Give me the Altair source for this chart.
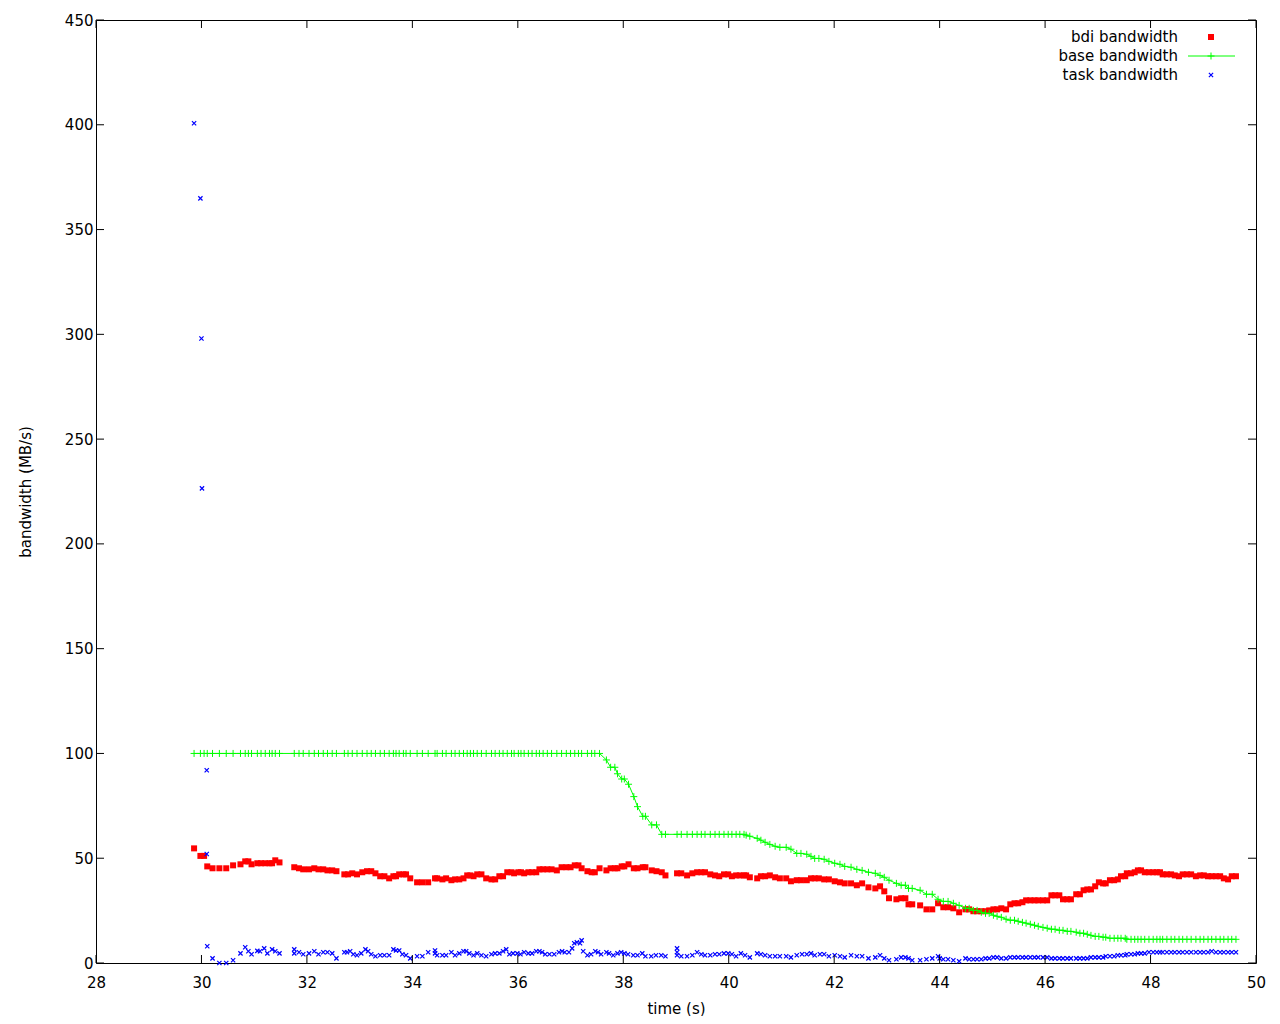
import altair as alt
import pandas as pd

# ---------------- data ----------------
time_s = [
    29.86, 29.98, 30.05, 30.11, 30.21, 30.34, 30.47, 30.60, 30.74, 30.83,
    30.89, 30.95, 31.06, 31.13, 31.21, 31.29, 31.34, 31.40, 31.48, 31.76,
    31.85, 31.93, 32.04, 32.14, 32.22, 32.31, 32.39, 32.48, 32.56, 32.71,
    32.78, 32.86, 32.95, 33.05, 33.14, 33.22, 33.30, 33.39, 33.47, 33.56,
    33.64, 33.69, 33.75, 33.83, 33.88, 33.96, 34.09, 34.19, 34.30, 34.43,
    34.47, 34.57, 34.64, 34.74, 34.81, 34.89, 34.97, 35.04, 35.10, 35.16,
    35.23, 35.31, 35.40, 35.50, 35.57, 35.65, 35.72, 35.80, 35.88, 35.93,
    36.01, 36.06, 36.12, 36.20, 36.27, 36.35, 36.41, 36.48, 36.56, 36.64,
    36.74, 36.83, 36.92, 37.00, 37.08, 37.15, 37.21, 37.32, 37.40, 37.46,
    37.55,
    37.68, 37.76, 37.84, 37.89, 37.97, 38.02, 38.10, 38.20, 38.27, 38.37,
    38.42, 38.54, 38.63,
    38.73, 38.80, 39.02, 39.10, 39.21, 39.31, 39.40, 39.48, 39.55, 39.65,
    39.74, 39.82, 39.91, 39.99, 40.06, 40.14, 40.21, 40.29,
    40.33, 40.40, 40.54, 40.61, 40.69, 40.78, 40.88, 40.97, 41.09, 41.18,
    41.29, 41.37, 41.48, 41.56, 41.63, 41.71, 41.81, 41.90, 42.01, 42.11,
    42.20, 42.32, 42.43, 42.53, 42.65, 42.78, 42.87, 42.95, 43.04, 43.18,
    43.27, 43.35, 43.41, 43.48, 43.63, 43.75, 43.86, 43.97, 44.07, 44.16,
    44.26, 44.37, 44.49, 44.56, 44.64, 44.71, 44.79, 44.87, 44.94, 45.02,
    45.09, 45.17, 45.26, 45.34, 45.42, 45.49, 45.57, 45.64, 45.72, 45.80,
    45.87, 45.96, 46.04, 46.12, 46.19, 46.27, 46.34, 46.42, 46.49, 46.59,
    46.66, 46.73, 46.80, 46.87, 46.95, 47.02, 47.10, 47.15, 47.23, 47.31,
    47.38, 47.44, 47.52,
    47.55, 47.63, 47.70, 47.76, 47.82, 47.89, 47.97, 48.05, 48.12, 48.18,
    48.23, 48.31, 48.39, 48.46, 48.54, 48.61, 48.69, 48.77, 48.86, 48.94,
    49.01, 49.09, 49.16, 49.24, 49.32, 49.39, 49.47, 49.54, 49.62,
]

bdi_bw = [
    54.7, 51.1, 51.1, 46.1, 45.2, 45.2, 45.2, 46.6, 47.1, 48.5,
    48.5, 47.1, 47.6, 47.6, 47.6, 47.6, 47.6, 49.0, 48.0, 45.7,
    45.2, 44.7, 44.7, 45.2, 44.7, 44.7, 44.2, 44.2, 43.8, 42.3,
    42.3, 42.8, 42.3, 43.3, 43.8, 43.8, 42.8, 41.4, 41.4, 40.4,
    41.4, 41.4, 42.3, 42.3, 42.3, 40.4, 38.5, 38.5, 38.5, 40.4,
    40.4, 39.9, 40.4, 39.5, 39.9, 39.9, 40.4, 41.8, 41.8, 41.4,
    42.3, 42.3, 40.4, 39.9, 39.9, 41.4, 41.4, 43.3, 43.3, 42.8,
    43.3, 43.3, 42.8, 43.3, 43.3, 43.3, 44.7, 44.7, 44.7, 44.7,
    44.2, 45.7, 45.7, 45.7, 46.6, 46.6, 45.2, 43.8, 43.3, 43.3,
    45.2,
    44.2, 45.2, 45.2, 45.2, 46.1, 46.1, 47.1, 45.2, 45.2, 45.7,
    45.7, 44.2, 43.8,
    43.3, 41.8, 42.8, 42.8, 41.8, 42.8, 43.3, 43.3, 43.3, 42.3,
    41.8, 41.4, 42.3, 42.3, 41.4, 41.8, 41.8, 41.8,
    41.8, 40.9, 40.4, 41.4, 41.4, 41.8, 40.9, 40.4, 40.4, 39.0,
    39.5, 39.5, 39.5, 40.4, 40.4, 40.4, 39.9, 39.9, 39.0, 38.5,
    38.0, 38.0, 37.1, 38.0, 36.1, 35.6, 36.6, 34.2, 30.9, 30.4,
    30.9, 30.9, 28.0, 28.0, 27.5, 25.6, 25.6, 28.5, 26.6, 26.6,
    26.1, 24.2, 25.6, 25.6, 24.7, 24.7, 24.7, 24.7, 25.1, 25.6,
    25.6, 26.1, 25.6, 28.0, 28.5, 28.5, 29.0, 29.9, 29.9, 29.9,
    29.9, 29.9, 29.9, 32.3, 32.3, 32.3, 30.4, 30.4, 30.4, 32.8,
    32.8, 34.7, 35.1, 35.1, 36.6, 38.5, 38.0, 38.0, 39.5, 39.5,
    39.9, 41.4, 41.4,
    42.8, 42.8, 43.3, 44.2, 44.2, 43.3, 43.3, 43.3, 43.3, 43.3,
    42.3, 42.3, 42.3, 41.8, 41.4, 42.3, 42.3, 42.3, 41.4, 41.8,
    41.8, 41.4, 41.4, 41.4, 41.4, 40.4, 39.9, 41.4, 41.4,
]

base_bw = [
    100.0, 100.0, 100.0, 100.0, 100.0, 100.0, 100.0, 100.0, 100.0, 100.0,
    100.0, 100.0, 100.0, 100.0, 100.0, 100.0, 100.0, 100.0, 100.0, 100.0,
    100.0, 100.0, 100.0, 100.0, 100.0, 100.0, 100.0, 100.0, 100.0, 100.0,
    100.0, 100.0, 100.0, 100.0, 100.0, 100.0, 100.0, 100.0, 100.0, 100.0,
    100.0, 100.0, 100.0, 100.0, 100.0, 100.0, 100.0, 100.0, 100.0, 100.0,
    100.0, 100.0, 100.0, 100.0, 100.0, 100.0, 100.0, 100.0, 100.0, 100.0,
    100.0, 100.0, 100.0, 100.0, 100.0, 100.0, 100.0, 100.0, 100.0, 100.0,
    100.0, 100.0, 100.0, 100.0, 100.0, 100.0, 100.0, 100.0, 100.0, 100.0,
    100.0, 100.0, 100.0, 100.0, 100.0, 100.0, 100.0, 100.0, 100.0, 100.0,
    100.0,
    96.9, 93.4, 93.4, 90.3, 87.8, 87.8, 85.3, 79.4, 74.6, 70.0,
    70.0, 65.9, 65.9,
    61.4, 61.4, 61.4, 61.4, 61.4, 61.4, 61.4, 61.4, 61.4, 61.4,
    61.4, 61.4, 61.4, 61.4, 61.4, 61.4, 61.4, 61.4,
    61.0, 60.5, 59.5, 58.6, 57.6, 56.6, 55.7, 55.2, 55.2, 54.3,
    52.3, 52.3, 51.9, 50.9, 49.9, 49.9, 49.5, 48.5, 47.6, 47.1,
    46.1, 45.7, 44.7, 44.2, 43.3, 42.8, 41.8, 40.9, 39.5, 38.0,
    37.1, 37.1, 35.6, 35.6, 34.7, 32.8, 32.8, 30.4, 29.4, 29.4,
    28.5, 27.5, 26.1, 26.1, 25.1, 25.1, 24.2, 23.7, 23.7, 22.8,
    22.3, 21.8, 20.9, 20.4, 20.4, 19.9, 19.4, 19.0, 18.5, 18.0,
    17.5, 17.0, 16.6, 16.1, 16.1, 15.6, 15.6, 15.1, 15.1, 14.7,
    14.2, 14.2, 13.7, 13.2, 12.7, 12.7, 12.3, 12.3, 11.8, 11.8,
    11.8, 11.8, 11.8,
    11.3, 11.3, 11.3, 11.3, 11.3, 11.3, 11.3, 11.3, 11.3, 11.3,
    11.3, 11.3, 11.3, 11.3, 11.3, 11.3, 11.3, 11.3, 11.3, 11.3,
    11.3, 11.3, 11.3, 11.3, 11.3, 11.3, 11.3, 11.3, 11.3,
]

task_time = [
    29.86, 29.98, 30.00, 30.01, 30.10, 30.10, 30.11, 30.21, 30.34, 30.47,
    30.60, 30.74, 30.83, 30.89, 30.95, 31.06, 31.11, 31.19, 31.25, 31.34,
    31.40, 31.48, 31.76, 31.76, 31.85, 31.93, 32.04, 32.14, 32.22, 32.31,
    32.39, 32.48, 32.56, 32.71, 32.76, 32.82, 32.88, 32.95, 33.03, 33.11,
    33.16, 33.22, 33.30, 33.39, 33.47, 33.56, 33.64, 33.69, 33.75, 33.81,
    33.88, 33.96, 34.09, 34.19, 34.30, 34.43, 34.43, 34.47, 34.57, 34.64,
    34.74, 34.81, 34.89, 34.97, 35.02, 35.08, 35.16, 35.23, 35.31, 35.40,
    35.50, 35.57, 35.65, 35.72, 35.78, 35.84, 35.91, 35.99, 36.05, 36.12,
    36.20, 36.27, 36.35, 36.41, 36.46, 36.52, 36.60, 36.69, 36.78, 36.84,
    36.89, 36.97, 37.03, 37.07, 37.12, 37.18, 37.21, 37.24, 37.32, 37.39,
    37.47, 37.52, 37.58, 37.68, 37.73, 37.81, 37.89, 37.96, 38.02, 38.09,
    38.19, 38.27, 38.36, 38.42, 38.53, 38.62, 38.72, 38.80, 39.02, 39.02,
    39.02, 39.10, 39.21, 39.31, 39.40, 39.48, 39.55, 39.65, 39.74, 39.82,
    39.91, 39.99, 40.06, 40.14, 40.23, 40.31, 40.40, 40.54, 40.61, 40.69,
    40.78, 40.88, 40.97, 41.09, 41.18, 41.29, 41.39, 41.48, 41.56, 41.63,
    41.73, 41.81, 41.90, 42.01, 42.11, 42.20, 42.32, 42.43, 42.53, 42.65,
    42.78, 42.87, 42.95, 43.04, 43.18, 43.27, 43.35, 43.41, 43.48, 43.63,
    43.75, 43.86, 43.97, 44.00, 44.07, 44.16, 44.26, 44.37, 44.49, 44.56,
    44.64, 44.71, 44.79, 44.87, 44.94, 45.02, 45.09, 45.17, 45.26, 45.34,
    45.42, 45.49, 45.57, 45.64, 45.72, 45.80, 45.87, 45.96, 46.04, 46.12,
    46.19, 46.27, 46.34, 46.42, 46.49, 46.59, 46.66, 46.73, 46.80, 46.87,
    46.95, 47.02, 47.10, 47.15, 47.23, 47.31, 47.38, 47.44, 47.52, 47.55,
    47.63, 47.70, 47.76, 47.82, 47.89, 47.97, 48.05, 48.12, 48.18, 48.23,
    48.31, 48.39, 48.46, 48.54, 48.61, 48.69, 48.77, 48.86, 48.94, 49.01,
    49.09, 49.16, 49.24, 49.32, 49.39, 49.47, 49.54, 49.62,
]

task_bw = [
    400.7, 364.9, 298.0, 226.5, 92.0, 52.0, 8.0, 2.2, 0.0, 0.0,
    1.3, 4.6, 7.5, 5.6, 4.2, 5.8, 5.6, 7.0, 4.6, 6.5,
    5.6, 4.6, 6.5, 4.6, 5.1, 4.2, 4.6, 5.6, 4.2, 5.1,
    5.1, 4.6, 2.2, 5.1, 5.1, 5.6, 4.2, 3.7, 4.6, 6.5,
    5.6, 4.2, 3.2, 3.7, 3.7, 3.7, 6.5, 6.0, 6.0, 4.2,
    3.7, 2.2, 3.2, 3.2, 5.1, 6.0, 4.6, 3.7, 3.7, 3.7,
    5.1, 3.7, 4.6, 5.6, 5.6, 4.6, 3.7, 4.6, 3.7, 3.2,
    4.2, 4.6, 4.6, 5.6, 6.5, 4.2, 4.6, 4.6, 4.2, 5.1,
    4.6, 4.6, 5.6, 5.6, 5.1, 4.2, 4.2, 4.2, 5.1, 5.6,
    5.1, 5.1, 7.0, 9.4, 9.9, 9.4, 10.8, 5.6, 3.7, 4.2,
    5.6, 5.1, 4.2, 5.1, 4.6, 3.7, 4.6, 5.1, 4.6, 4.2,
    3.7, 3.7, 4.6, 3.2, 3.2, 3.7, 3.7, 3.2, 7.0, 5.1,
    3.7, 3.2, 3.2, 3.7, 5.1, 4.2, 3.7, 3.7, 4.2, 4.2,
    4.6, 4.6, 4.2, 3.2, 4.6, 3.7, 2.7, 4.6, 4.2, 3.7,
    3.2, 3.2, 3.2, 3.2, 2.7, 3.7, 4.2, 4.2, 4.6, 3.7,
    4.2, 4.2, 3.2, 3.7, 3.2, 2.7, 3.7, 3.2, 3.2, 2.2,
    2.7, 3.7, 2.2, 1.3, 1.8, 2.7, 2.7, 2.2, 1.3, 1.3,
    1.8, 2.2, 3.2, 2.2, 1.8, 1.8, 1.3, 0.8, 2.2, 1.8,
    1.8, 1.8, 1.8, 2.2, 2.2, 2.7, 2.7, 2.2, 2.2, 2.7,
    2.7, 2.7, 2.7, 2.7, 2.7, 2.7, 2.7, 2.7, 2.7, 2.2,
    2.2, 2.2, 2.2, 2.2, 2.2, 2.2, 2.2, 2.2, 2.2, 2.7,
    2.7, 2.7, 2.7, 3.2, 3.2, 3.2, 3.7, 3.7, 3.7, 4.2,
    4.2, 4.2, 4.6, 4.6, 4.6, 5.1, 5.1, 5.1, 5.1, 5.1,
    5.1, 5.1, 5.1, 5.1, 5.1, 5.1, 5.1, 5.1, 5.1, 5.1,
    5.1, 5.6, 5.1, 5.1, 5.1, 5.1, 5.1, 5.1,
]

x_ticks = [28, 30, 32, 34, 36, 38, 40, 42, 44, 46, 48, 50]
y_ticks = [0, 50, 100, 150, 200, 250, 300, 350, 400, 450]
legend_labels = ["bdi bandwidth", "base bandwidth", "task bandwidth"]

# ---------------- chart ----------------
W, H = 1160, 943
FONT = "DejaVu Sans"
FS = 15
RED, GREEN, BLUE = "#ff0000", "#00ff00", "#0000ff"
PLUS = "M-1,0L1,0M0,-1L0,1"
XSHAPE = "M-1,-1L1,1M-1,1L1,-1"

main = pd.DataFrame({"t": time_s, "bdi": bdi_bw, "base": base_bw})
task = pd.DataFrame({"t": task_time, "v": task_bw})

xs = alt.Scale(domain=[28, 50], nice=False, zero=False)
ys = alt.Scale(domain=[0, 450], nice=False, zero=False)

x_axis = alt.Axis(
    values=x_ticks, ticks=False, domain=False, grid=False,
    labelFont=FONT, labelFontSize=FS, labelColor="black", labelPadding=12,
    labelFlush=False,
    title="time (s)", titleFont=FONT, titleFontSize=FS, titleFontWeight="normal",
    titleColor="black", titleX=W / 2, titleY=53, titleBaseline="bottom",
    titleAlign="center",
)
y_axis = alt.Axis(
    values=y_ticks, ticks=False, domain=False, grid=False,
    labelFont=FONT, labelFontSize=FS, labelColor="black", labelPadding=3,
    labelFlush=False,
    title="bandwidth (MB/s)", titleFont=FONT, titleFontSize=FS,
    titleFontWeight="normal", titleColor="black", titleAngle=-90,
    titleX=-71, titleY=H / 2, titleBaseline="middle", titleAlign="center",
)


def X(field):
    return alt.X(field, scale=xs, axis=x_axis)


def Y(field):
    return alt.Y(field, scale=ys, axis=y_axis)


bdi_layer = alt.Chart(main).mark_point(
    shape="square", filled=True, size=36, color=RED, opacity=1
).encode(x=X("t:Q"), y=Y("bdi:Q"))

base_line = alt.Chart(main).mark_line(color=GREEN, strokeWidth=1).encode(
    x=X("t:Q"), y=Y("base:Q"), order="t:Q"
)
base_pts = alt.Chart(main).mark_point(
    shape=PLUS, filled=False, size=49, color=GREEN, strokeWidth=1, opacity=1
).encode(x=X("t:Q"), y=Y("base:Q"))

task_pts = alt.Chart(task).mark_point(
    shape=XSHAPE, filled=False, size=18, color=BLUE, strokeWidth=1.2, opacity=1
).encode(x=X("t:Q"), y=Y("v:Q"))

# inward tick marks on all four sides (gnuplot style)
xt = pd.DataFrame({"t": x_ticks})
yt = pd.DataFrame({"v": y_ticks})
tick_bottom = alt.Chart(xt).mark_rule(color="black", strokeWidth=1).encode(
    x=X("t:Q"), y=alt.value(H), y2=alt.value(H - 8))
tick_top = alt.Chart(xt).mark_rule(color="black", strokeWidth=1).encode(
    x=X("t:Q"), y=alt.value(0), y2=alt.value(8))
tick_left = alt.Chart(yt).mark_rule(color="black", strokeWidth=1).encode(
    y=Y("v:Q"), x=alt.value(0), x2=alt.value(8))
tick_right = alt.Chart(yt).mark_rule(color="black", strokeWidth=1).encode(
    y=Y("v:Q"), x=alt.value(W - 8), x2=alt.value(W))

# key (top right, gnuplot style: label then sample)
LX, SX = 1082, 1115
leg = []
for i, lab in enumerate(legend_labels):
    d = pd.DataFrame({"label": [lab]})
    ly = 17 + 19 * i
    leg.append(alt.Chart(d).mark_text(
        align="right", baseline="middle", font=FONT, fontSize=FS, color="black"
    ).encode(x=alt.value(LX), y=alt.value(ly), text="label:N"))
d0 = pd.DataFrame({"label": [legend_labels[0]]})
leg.append(alt.Chart(d0).mark_point(
    shape="square", filled=True, size=36, color=RED, opacity=1
).encode(x=alt.value(SX), y=alt.value(17)))
leg.append(alt.Chart(d0).mark_rule(color=GREEN, strokeWidth=1).encode(
    x=alt.value(SX - 23), x2=alt.value(SX + 24), y=alt.value(36)))
leg.append(alt.Chart(d0).mark_point(
    shape=PLUS, filled=False, size=49, color=GREEN, strokeWidth=1, opacity=1
).encode(x=alt.value(SX), y=alt.value(36)))
leg.append(alt.Chart(d0).mark_point(
    shape=XSHAPE, filled=False, size=18, color=BLUE, strokeWidth=1.2, opacity=1
).encode(x=alt.value(SX), y=alt.value(55)))

chart = alt.layer(
    bdi_layer, base_line, base_pts, task_pts,
    tick_bottom, tick_top, tick_left, tick_right, *leg
).properties(
    width=W, height=H,
    autosize=alt.AutoSizeParams(type="none"),
    padding={"left": 88, "top": 12, "right": 16, "bottom": 53},
    background="white",
).configure_view(
    stroke="black", strokeWidth=1
)

chart.save("out.html", embed_options={"renderer": "svg", "actions": False})
